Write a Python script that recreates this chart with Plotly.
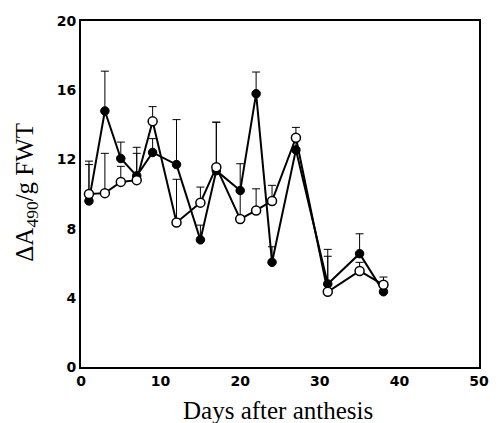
import plotly.graph_objects as go

days = [1, 3, 5, 7, 9, 12, 15, 17, 20, 22, 24, 27, 31, 35, 38]
filled_vals = [9.6, 14.8, 12.05, 11.05, 12.4, 11.7, 7.35, 11.35, 10.2, 15.8, 6.05, 12.55, 4.8, 6.55, 4.35]
filled_err = [2.3, 2.3, 0.95, 1.3, 0.8, 2.6, 0.85, 2.8, 1.55, 1.25, 0.9, 0.8, 2.0, 1.15, 0.4]
open_vals = [10.0, 10.05, 10.7, 10.8, 14.2, 8.35, 9.5, 11.55, 8.55, 9.05, 9.6, 13.25, 4.35, 5.55, 4.75]
open_err = [1.7, 2.3, 0.9, 1.9, 0.85, 2.5, 0.9, 2.6, 1.6, 1.25, 0.9, 0.6, 2.05, 0.5, 0.45]
x_ticks = [0, 10, 20, 30, 40, 50]
y_ticks = [0, 4, 8, 12, 16, 20]

fig = go.Figure()
fig.add_trace(go.Scatter(
    x=days, y=filled_vals, mode="lines+markers",
    line=dict(color="black", width=2),
    marker=dict(symbol="circle", size=8.5, color="black", line=dict(color="black", width=1)),
    error_y=dict(type="data", array=filled_err, arrayminus=[0] * len(days), symmetric=False,
                 color="black", thickness=1, width=4),
    showlegend=False,
))
fig.add_trace(go.Scatter(
    x=days, y=open_vals, mode="lines+markers",
    line=dict(color="black", width=2),
    marker=dict(symbol="circle", size=9, color="white", line=dict(color="black", width=1.5)),
    error_y=dict(type="data", array=open_err, arrayminus=[0] * len(days), symmetric=False,
                 color="black", thickness=1, width=4),
    showlegend=False,
))

tickfont = dict(family="DejaVu Sans", size=14, color="black", weight="bold")
fig.update_xaxes(range=[0, 50], tickvals=x_ticks, showgrid=False, zeroline=False,
                 showline=True, linecolor="black", linewidth=2, mirror=True,
                 ticks="", tickfont=tickfont)
fig.update_yaxes(range=[0, 20], tickvals=y_ticks, showgrid=False, zeroline=False,
                 showline=True, linecolor="black", linewidth=2, mirror=True,
                 ticks="", tickfont=tickfont)

fig.add_annotation(text="Days after anthesis", xref="paper", yref="paper",
                   x=0.495, y=-0.125, yanchor="middle", showarrow=False,
                   font=dict(family="Liberation Serif", size=25, color="black"))
fig.add_annotation(text="ΔA<sub>490</sub>/g FWT", xref="paper", yref="paper",
                   x=-0.137, y=0.505, xanchor="center", yanchor="middle", textangle=-90,
                   showarrow=False,
                   font=dict(family="Liberation Serif", size=25, color="black"))

fig.update_layout(width=499, height=423, plot_bgcolor="white", paper_bgcolor="white",
                  margin=dict(l=81, r=10, t=21, b=56))
fig.write_html("out.html", config={"displayModeBar": False},
               post_script="document.body.style.margin='0';")
